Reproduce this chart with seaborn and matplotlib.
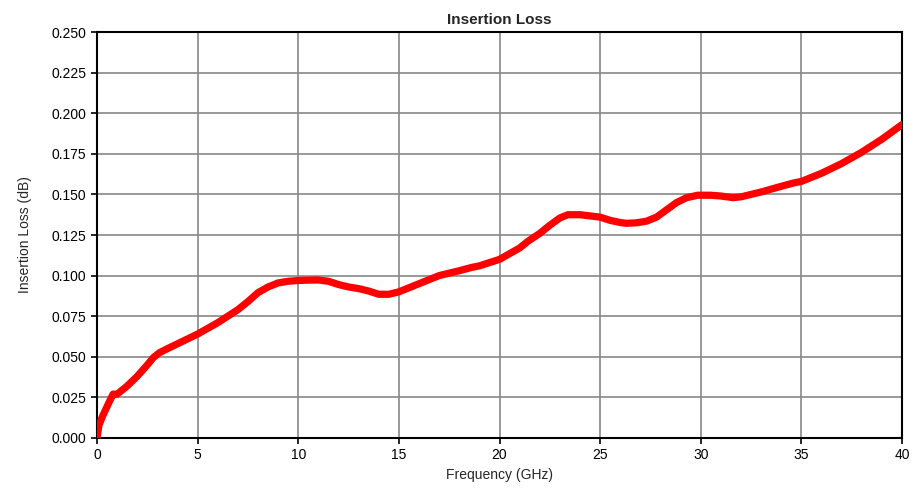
import numpy as np
import pandas as pd
import seaborn as sns
import matplotlib.pyplot as plt

freq_ghz = [0, 0.1, 0.3, 0.6, 0.8, 1.0, 1.5, 2, 2.5, 2.8, 3.1, 3.5, 4, 5, 6, 7, 7.5, 8, 8.5, 9,
            9.5, 10, 10.5, 11, 11.5, 12, 12.5, 13, 13.5, 14, 14.5, 15, 16, 17, 18, 18.6, 19, 20,
            21, 21.4, 22, 22.5, 23, 23.4, 24, 25, 25.5, 26, 26.3, 26.8, 27.3, 27.8, 28.3, 28.8,
            29.3, 29.85, 30.5, 31, 31.6, 32, 33, 34, 34.6, 35, 36, 37, 38, 39, 40]
loss_db = [0.000, 0.008, 0.014, 0.022, 0.027, 0.027, 0.032, 0.038, 0.045, 0.0495, 0.0525,
           0.055, 0.058, 0.064, 0.071, 0.079, 0.084, 0.0895, 0.093, 0.0955, 0.0965, 0.097,
           0.0972, 0.0973, 0.0965, 0.0945, 0.093, 0.092, 0.0905, 0.0885, 0.0885, 0.090, 0.095,
           0.100, 0.103, 0.105, 0.106, 0.110, 0.117, 0.121, 0.126, 0.131, 0.1355, 0.1375, 0.1375,
           0.136, 0.134, 0.1327, 0.1322, 0.1325, 0.1335, 0.136, 0.1405, 0.145, 0.148, 0.1495,
           0.1495, 0.149, 0.148, 0.1485, 0.1515, 0.155, 0.157, 0.158, 0.163, 0.169, 0.176,
           0.184, 0.193]

df = pd.DataFrame({'freq': freq_ghz, 'loss': loss_db})

sns.set_style('white')
plt.rcParams['font.family'] = ['Liberation Sans', 'DejaVu Sans']

fig = plt.figure(figsize=(9.14, 4.98), dpi=100)
ax = fig.add_axes([0.1061, 0.1205, 0.8808, 0.8152])

sns.lineplot(data=df, x='freq', y='loss', ax=ax, color='#ff0000', linewidth=5.2,
             solid_joinstyle='round', solid_capstyle='round', zorder=3)

ax.set_xlim(0, 40)
ax.set_ylim(0, 0.25)
ax.set_xticks(np.arange(0, 41, 5))
ax.set_yticks(np.arange(0, 0.2501, 0.025))
ax.set_yticklabels([f'{v:.3f}' for v in np.arange(0, 0.2501, 0.025)])
ax.grid(True, color='#888888', linewidth=1.2)
ax.set_axisbelow(True)
for s in ax.spines.values():
    s.set_color('black')
    s.set_linewidth(1.5)
ax.tick_params(axis='both', direction='out', length=4, width=1.2, colors='black',
               labelsize=10, bottom=True, left=True)
ax.set_xlabel('Frequency (GHz)', fontsize=10)
ax.set_ylabel('Insertion Loss (dB)', fontsize=10, labelpad=14)
ax.set_title('Insertion Loss', fontsize=11, fontweight='bold', pad=6)

fig.savefig('out.png', dpi=100)
